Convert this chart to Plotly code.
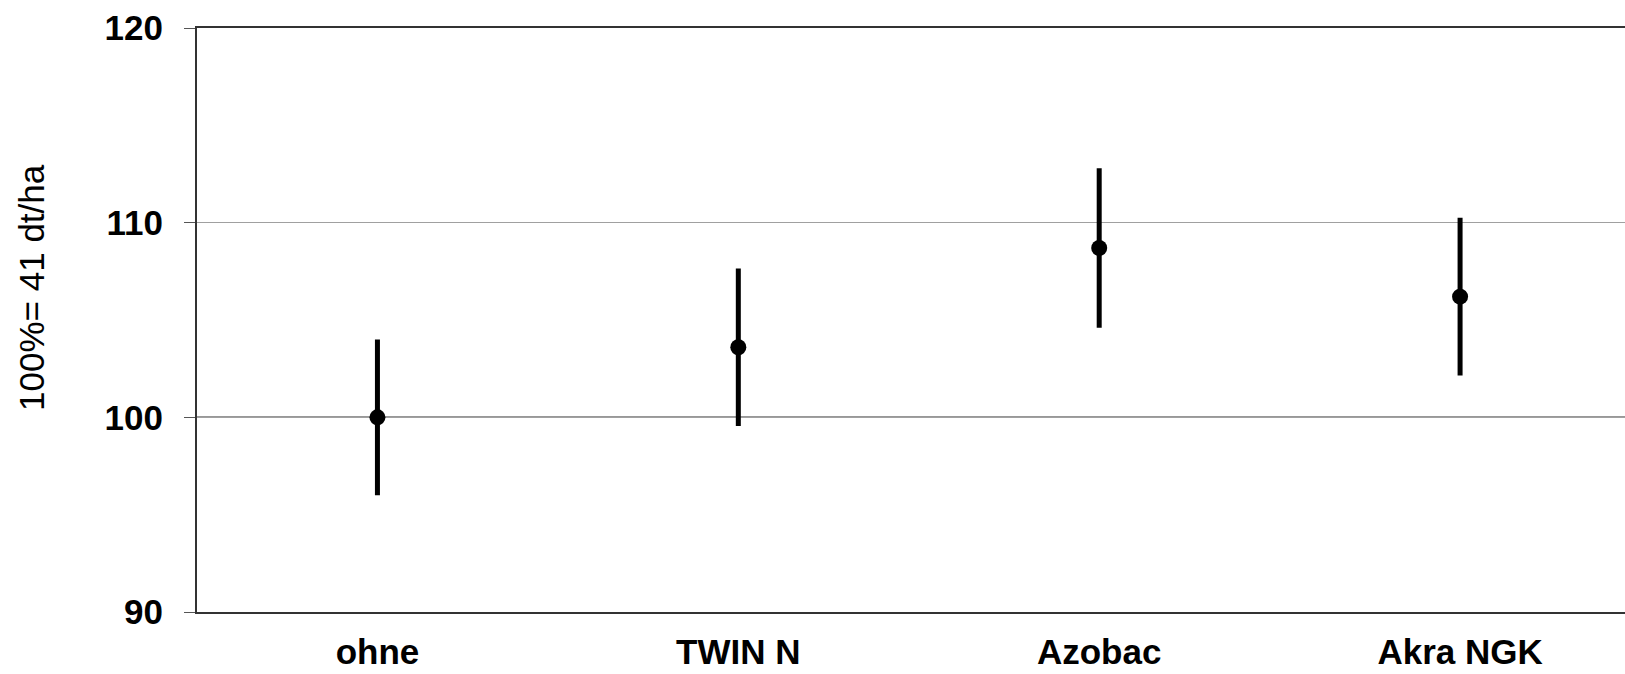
import plotly.graph_objects as go

categories = ["ohne", "TWIN N", "Azobac", "Akra NGK"]
means = [100.0, 103.6, 108.7, 106.2]
errors = [4.0, 4.05, 4.1, 4.05]
y_ticks = [90, 100, 110, 120]
baseline = 100
y_title = "100%= 41 dt/ha"

fig = go.Figure()
fig.add_trace(go.Scatter(
    x=categories, y=means, mode="markers",
    marker=dict(color="black", size=16),
    error_y=dict(type="data", array=errors, visible=True, color="black",
                 thickness=5, width=0),
    showlegend=False,
))

fig.add_shape(type="line", xref="paper", x0=0, x1=1, yref="y", y0=baseline, y1=baseline,
              line=dict(color="#333333", width=1.5), layer="below")

fig.add_annotation(
    text=y_title, textangle=-90, showarrow=False,
    xref="paper", yref="paper", x=-0.1155, y=0.555,
    xanchor="center", yanchor="middle",
    font=dict(size=35, color="black"),
)

fig.update_layout(
    width=1625, height=674,
    margin=dict(l=197, r=0, t=28, b=62),
    plot_bgcolor="white", paper_bgcolor="white",
    font=dict(family="Liberation Sans, Arial, sans-serif", color="black"),
    xaxis=dict(
        type="category", range=[-0.5, 3.457], automargin=False,
        showline=True, linecolor="#333333", linewidth=2, mirror=True,
        showgrid=False, ticks="",
        tickfont=dict(size=35, weight="bold"),
        ticklabelstandoff=8,
    ),
    yaxis=dict(
        range=[90, 120], tickvals=y_ticks, automargin=False,
        showline=True, linecolor="#333333", linewidth=2,
        showgrid=True, gridcolor="#a0a0a0", gridwidth=1,
        ticks="outside", ticklen=11, tickcolor="#555555", tickwidth=1,
        tickfont=dict(size=35, weight="bold"),
        ticklabelstandoff=14,
        zeroline=False,
    ),
)

fig.write_html("out.html")
